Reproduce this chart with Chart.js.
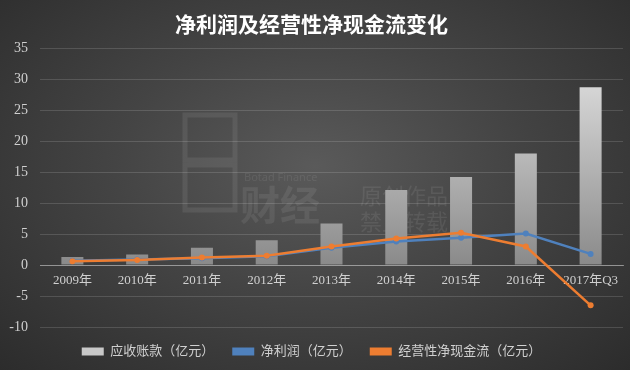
<!DOCTYPE html>
<html><head><meta charset="utf-8">
<script src="https://cdn.jsdelivr.net/npm/chart.js@4.4.0/dist/chart.umd.min.js"></script>
<style>
html,body{margin:0;padding:0;width:630px;height:370px;overflow:hidden;}
body{background:radial-gradient(ellipse at 50% 45%, #5a5a5a 0%, #444 45%, #2c2c2c 100%);}
canvas{display:block;}
</style></head>
<body><canvas id="c" width="630" height="370"></canvas>
<script>
const categories = ['2009年','2010年','2011年','2012年','2013年','2014年','2015年','2016年','2017年Q3'];
const receivables = [1.3, 1.7, 2.8, 4.0, 6.7, 12.1, 14.2, 18.0, 28.7];
const netProfit = [0.7, 0.9, 1.1, 1.4, 2.8, 3.8, 4.4, 5.1, 1.8];
const operatingCF = [0.6, 0.8, 1.2, 1.5, 3.0, 4.3, 5.2, 3.0, -6.5];
const seriesNames = ['应收账款（亿元）','净利润（亿元）','经营性净现金流（亿元）'];
const titleText = '净利润及经营性净现金流变化';

const serif = "'Liberation Serif', 'Noto Sans CJK SC', serif";

const watermark = {
  id: 'watermark',
  beforeDatasetsDraw(chart) {
    const ctx = chart.ctx;
    ctx.save();
    ctx.fillStyle = 'rgba(255,255,255,0.08)';
    ctx.strokeStyle = 'rgba(255,255,255,0.08)';
    ctx.lineWidth = 5;
    ctx.strokeRect(185, 115, 50, 45);
    ctx.strokeRect(185, 165, 50, 45);
    ctx.font = "bold 40px 'Noto Sans CJK SC'";
    ctx.fillText('财经', 240, 205);
    ctx.font = "11px 'Noto Sans'";
    ctx.fillText('Botad Finance', 244, 178);
    ctx.font = "22px 'Noto Sans CJK SC'";
    ctx.fillText('原创作品', 360, 196);
    ctx.fillText('禁止转载', 360, 222);
    ctx.restore();
  }
};

new Chart(document.getElementById('c'), {
  data: {
    labels: categories,
    datasets: [
      {
        type: 'line', label: seriesNames[1], data: netProfit,
        borderColor: '#4f81bd', backgroundColor: '#4f81bd',
        borderWidth: 2.5, pointRadius: 3, pointBackgroundColor: '#4f81bd',
        pointBorderWidth: 0, tension: 0, order: 1
      },
      {
        type: 'line', label: seriesNames[2], data: operatingCF,
        borderColor: '#ed7d31', backgroundColor: '#ed7d31',
        borderWidth: 2.5, pointRadius: 3, pointBackgroundColor: '#ed7d31',
        pointBorderWidth: 0, tension: 0, order: 0
      },
      {
        type: 'bar', label: seriesNames[0], data: receivables,
        backgroundColor: (ctx) => {
          const ch = ctx.chart; const a = ch.chartArea;
          if (!a) return '#bbb';
          const g = ch.ctx.createLinearGradient(0, a.top, 0, ch.scales.y.getPixelForValue(0));
          g.addColorStop(0, '#e6e6e6');
          g.addColorStop(1, '#8a8a8a');
          return g;
        },
        borderWidth: 0, barPercentage: 0.68, categoryPercentage: 0.5, order: 2
      }
    ]
  },
  options: {
    responsive: false, animation: false,
    layout: { padding: { left: 0, right: 7, top: 0, bottom: 2 } },
    plugins: {
      title: {
        display: true, text: titleText, color: '#ffffff',
        font: { family: "'Noto Sans CJK SC'", size: 21, weight: 'bold' },
        padding: { top: 11, bottom: 12 }
      },
      legend: {
        position: 'bottom',
        labels: {
          color: '#d0d0d0', font: { family: serif, size: 13 },
          padding: 18, boxWidth: 22, boxHeight: 8,
          generateLabels(chart) {
            const order = [2, 0, 1];
            return order.map(i => {
              const ds = chart.data.datasets[i];
              return {
                text: ds.label, datasetIndex: i,
                fillStyle: i === 2 ? '#c8c8c8' : ds.borderColor,
                strokeStyle: i === 2 ? '#c8c8c8' : ds.borderColor,
                lineWidth: 0, fontColor: '#d0d0d0', hidden: false
              };
            });
          }
        }
      },
      tooltip: { enabled: false }
    },
    scales: {
      x: {
        type: 'category', position: { y: 0 }, offset: true,
        grid: { display: false, drawTicks: false },
        border: { display: true, color: 'rgba(200,200,200,0.55)', width: 1 },
        ticks: { color: '#d0d0d0', font: { family: serif, size: 13 }, padding: 8, maxRotation: 0, autoSkip: false }
      },
      y: {
        min: -10, max: 35,
        ticks: { stepSize: 5, color: '#d0d0d0', font: { family: serif, size: 14 }, padding: 12 },
        grid: { color: 'rgba(255,255,255,0.14)', drawTicks: false },
        border: { display: false },
        afterFit(scale) { scale.width = 40; }
      }
    }
  },
  plugins: [watermark]
});
</script>
</body></html>
